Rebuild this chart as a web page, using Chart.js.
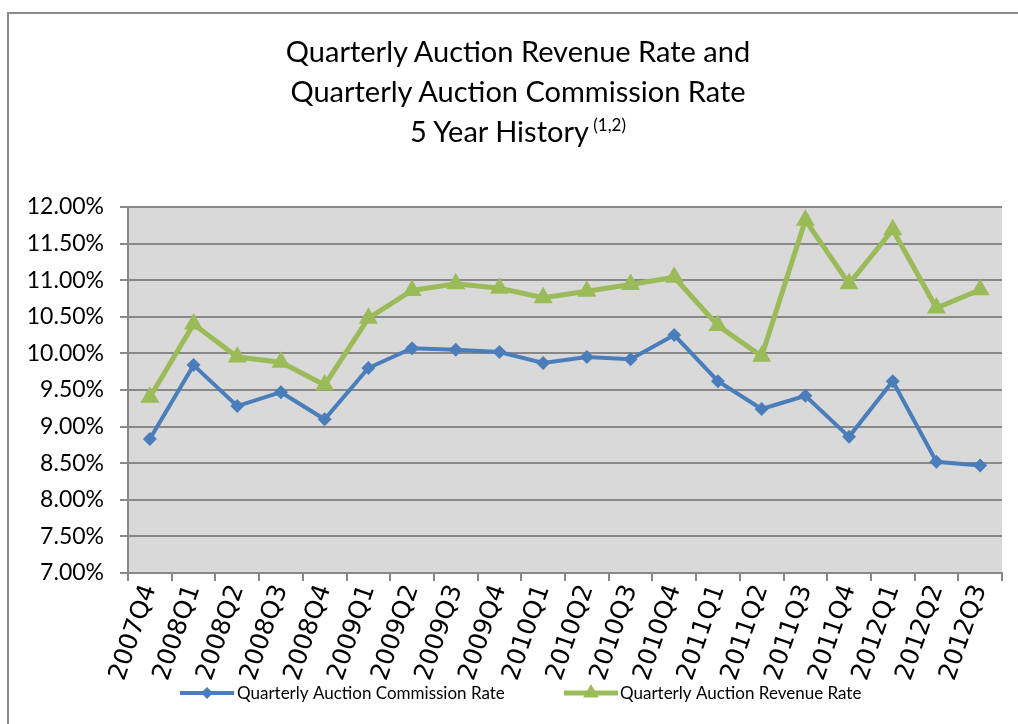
<!DOCTYPE html>
<html><head><meta charset="utf-8">
<script src="https://cdn.jsdelivr.net/npm/chart.js@4"></script>
<style>
html,body{margin:0;padding:0;background:#fff;width:1018px;height:724px;overflow:hidden;}
#frame{position:absolute;left:7px;top:12px;width:1030px;height:730px;border:2px solid #8c8c8c;box-sizing:border-box;}
#title{position:absolute;left:0;top:31px;width:1036px;text-align:center;font-family:Lato,"Open Sans",sans-serif;font-size:29px;line-height:40px;color:#000;}
#title sup{font-size:17px;vertical-align:top;position:relative;top:-6px;}
#wrap{position:absolute;left:0;top:0;width:1018px;height:724px;}
</style></head>
<body>
<div id="frame"></div>
<div id="wrap"><canvas id="c" width="1018" height="724"></canvas></div>
<div id="title">Quarterly Auction Revenue Rate and<br>Quarterly Auction Commission Rate<br>5 Year History<sup>&nbsp;(1,2)</sup></div>
<script>
const categories = ["2007Q4","2008Q1","2008Q2","2008Q3","2008Q4","2009Q1","2009Q2","2009Q3","2009Q4","2010Q1","2010Q2","2010Q3","2010Q4","2011Q1","2011Q2","2011Q3","2011Q4","2012Q1","2012Q2","2012Q3"];
const commissionRate = [8.83,9.84,9.28,9.47,9.10,9.80,10.07,10.05,10.02,9.87,9.95,9.92,10.25,9.62,9.24,9.42,8.86,9.62,8.52,8.47];
const revenueRate = [9.40,10.40,9.95,9.88,9.57,10.48,10.86,10.95,10.89,10.76,10.85,10.94,11.04,10.38,9.96,11.82,10.95,11.69,10.62,10.87];
const seriesNames = ["Quarterly Auction Commission Rate","Quarterly Auction Revenue Rate"];
const yTicks = {min:7, max:12, step:0.5};

const BLUE = '#4a7ebb', GREEN = '#9bbb59';

const bgPlugin = {
  id:'bg',
  beforeDraw(chart){
    const {ctx, chartArea:a} = chart;
    ctx.save(); ctx.fillStyle='#d9d9d9';
    ctx.fillRect(a.left,a.top,a.right-a.left,a.bottom-a.top);
    ctx.restore();
  }
};
const legendPlugin = {
  id:'customLegend',
  afterDraw(chart){
    const ctx = chart.ctx;
    const items = [
      {x:180, w:54, color:BLUE, style:'rectRot', r:6, lw:4, text:seriesNames[0], tx:237},
      {x:564, w:54, color:GREEN, style:'triangle', r:9, lw:5, text:seriesNames[1], tx:620}
    ];
    const y = 693;
    ctx.save();
    items.forEach(it=>{
      ctx.strokeStyle = it.color; ctx.lineWidth = it.lw;
      ctx.beginPath(); ctx.moveTo(it.x,y); ctx.lineTo(it.x+it.w,y); ctx.stroke();
      ctx.fillStyle = it.color;
      Chart.helpers.drawPoint(ctx,{pointStyle:it.style, radius:it.r, borderWidth:0}, it.x+it.w/2, y);
      ctx.fillStyle='#000'; ctx.font='17px Lato'; ctx.textBaseline='middle'; ctx.textAlign='left';
      ctx.fillText(it.text, it.tx, y+1);
    });
    ctx.restore();
  }
};

new Chart(document.getElementById('c'), {
  type:'line',
  data:{
    labels:categories,
    datasets:[
      {label:seriesNames[0], data:commissionRate, borderColor:BLUE, backgroundColor:BLUE, borderWidth:4,
       pointStyle:'rectRot', pointRadius:7, pointBorderWidth:0, pointBackgroundColor:BLUE, tension:0},
      {label:seriesNames[1], data:revenueRate, borderColor:GREEN, backgroundColor:GREEN, borderWidth:5,
       pointStyle:'triangle', pointRadius:11, pointBorderWidth:0, pointBackgroundColor:GREEN, tension:0}
    ]
  },
  options:{
    responsive:false, animation:false, devicePixelRatio:1,
    layout:{padding:{top:207,left:0,right:16,bottom:0}},
    plugins:{legend:{display:false}, title:{display:false}, tooltip:{enabled:false}},
    scales:{
      x:{
        offset:true,
        grid:{display:true, drawOnChartArea:false, offset:true, tickLength:8, color:'#888', lineWidth:2},
        border:{display:true, color:'#888', width:2},
        ticks:{minRotation:71, maxRotation:71, color:'#000', font:{family:'DejaVu Sans', size:25}, padding:0},
        afterFit(axis){ axis.height = 151; }
      },
      y:{
        min:yTicks.min, max:yTicks.max,
        grid:{display:true, drawOnChartArea:true, tickLength:8, color:'#888', lineWidth:2},
        border:{display:true, color:'#888', width:2},
        ticks:{stepSize:yTicks.step, color:'#000', font:{family:'Lato', size:23}, padding:16,
               callback:v=>v.toFixed(2)+'%'},
        afterFit(axis){ axis.width = 128; }
      }
    }
  },
  plugins:[bgPlugin, legendPlugin]
});
</script>
</body></html>
